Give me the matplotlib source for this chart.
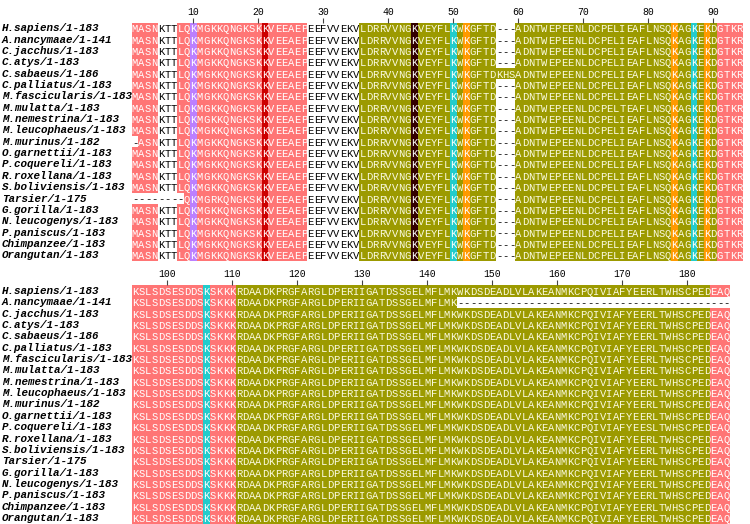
import numpy as np
import matplotlib
matplotlib.use('Agg')
import matplotlib.pyplot as plt
from matplotlib.colors import ListedColormap
from matplotlib.transforms import blended_transform_factory

names = ["H.sapiens/1-183", "A.nancymaae/1-141", "C.jacchus/1-183", "C.atys/1-183",
         "C.sabaeus/1-186", "C.palliatus/1-183", "M.fascicularis/1-183", "M.mulatta/1-183",
         "M.nemestrina/1-183", "M.leucophaeus/1-183", "M.murinus/1-182", "O.garnettii/1-183",
         "P.coquereli/1-183", "R.roxellana/1-183", "S.boliviensis/1-183", "Tarsier/1-175",
         "G.gorilla/1-183", "N.leucogenys/1-183", "P.paniscus/1-183", "Chimpanzee/1-183",
         "Orangutan/1-183"]

seqs = [
    "MASNKTTLQKMGKKQNGKSKKVEEAEPEEFVVEKVLDRRVVNGKVEYFLKWKGFTD---ADNTWEPEENLDCPELIEAFLNSQKAGKEKDGTKR"
    "KSLSDSESDDSKSKKKRDAADKPRGFARGLDPERIIGATDSSGELMFLMKWKDSDEADLVLAKEANMKCPQIVIAFYEERLTWHSCPEDEAQ",
    "MASNKTTLQKMGKKQNGKSKKVEEAEPEEFVVEKVLDRRVVNGKVEYFLKWKGFTD---ADNTWEPEENLDCPELIEAFLNSQKAGKEKDGTKR"
    "KSLSDSESDDSKSKKKRDAADKPRGFARGLDPERIIGATDSSGELMFLMK" "----------" "----------" "----------" "----------" "--",
    "MASNKTTLQKMGKKQNGKSKKVEEAEPEEFVVEKVLDRRVVNGKVEYFLKWKGFTD---ADNTWEPEENLDCPELIEAFLNSQKAGKEKDGTKR"
    "KSLSDSESDDSKSKKKRDAADKPRGFARGLDPERIIGATDSSGELMFLMKWKDSDEADLVLAKEANMKCPQIVIAFYEERLTWHSCPEDEAQ",
    "MASNKTTLQKMGKKQNGKSKKVEEAEPEEFVVEKVLDRRVVNGKVEYFLKWKGFTD---ADNTWEPEENLDCPELIEAFLNSQKAGKEKDGTKR"
    "KSLSDSESDDSKSKKKRDAADKPRGFARGLDPERIIGATDSSGELMFLMKWKDSDEADLVLAKEANMKCPQIVIAFYEERLTWHSCPEDEAQ",
    "MASNKTTLQKMGKKQNGKSKKVEEAEPEEFVVEKVLDRRVVNGKVEYFLKWKGFTDKHSADNTWEPEENLDCPELIEAFLNSQKAGKEKDGTKR"
    "KSLSDSESDDSKSKKKRDAADKPRGFARGLDPERIIGATDSSGELMFLMKWKDSDEADLVLAKEANMKCPQIVIAFYEERLTWHSCPEDEAQ",
    "MASNKTTLQKMGKKQNGKSKKVEEAEPEEFVVEKVLDRRVVNGKVEYFLKWKGFTD---ADNTWEPEENLDCPELIEAFLNSQKAGKEKDGTKR"
    "KSLSDSESDDSKSKKKRDAADKPRGFARGLDPERIIGATDSSGELMFLMKWKDSDEADLVLAKEANMKCPQIVIAFYEERLTWHSCPEDEAQ",
    "MASNKTTLQKMGKKQNGKSKKVEEAEPEEFVVEKVLDRRVVNGKVEYFLKWKGFTD---ADNTWEPEENLDCPELIEAFLNSQKAGKEKDGTKR"
    "KSLSDSESDDSKSKKKRDAADKPRGFARGLDPERIIGATDSSGELMFLMKWKDSDEADLVLAKEANMKCPQIVIAFYEERLTWHSCPEDEAQ",
    "MASNKTTLQKMGKKQNGKSKKVEEAEPEEFVVEKVLDRRVVNGKVEYFLKWKGFTD---ADNTWEPEENLDCPELTEAFLNSQKAGKEKDGTKR"
    "KSLSDSESDDSKSKKKRDAADKPRGFARGLDPERIIGATDSSGELMFLMKWKDSDEADLVLAKEANMKCPQIVIAFYEERLTWHSCPEDEAQ",
    "MASNKTTLQKMGKKQNGKSKKVEEAEPEEFVVEKVLDRRVVNGKVEYFLKWKGFTD---ADNTWEPEENLDCPELIEAFLNSQKAGKEKDGTKR"
    "KSLSDSESDDSKSKKKRDAADKPRGFARGLDPERIIGATDSSGELMFLMKWKDSDEADLVLAKEANMKCPQIVIAFYEERLTWHSCPEDEAQ",
    "MASNKTTLQKMGKKQNGKSKKVEEAEPEEFVVEKVLDRRVVNGKVEYFLKWKGFTD---ADNTWEPEENLDCPELIEAFLNSQKAGKEKDGTKR"
    "KSLSDSESDDSKSKKKRDAADKPRGFARGLDPERIIGATDSSGELMFLMKWKDSDEADLVLAKEANMKCPQIVIAFYEERLTWHSCPEDEAQ",
    "-ASNKTTLQKMGKKQNGKSKKVEEAEPEEFVVEKVLDRRVVNGKVEYFLKWKGFTD---ADNTWEPEENLDCPELIEAFLNSQKAGKEKDGTKR"
    "KSLSDSESDDSKSKKKRDAADKPRGFARGLDPERIIGATDSSGELMFLMKWKDSDEADLVLAKEANMKCPQIVIAFYEERLTWHSCPEDEAQ",
    "MASNKTTLQKMGKKQNGKSKKVEEAEPEEFVVEKVLDRRVVNGKVEYFLKWKGFTD---ADNTWEPEENLDCPELIEAFLNSQKAGKEKDGTKR"
    "KSLSDSESDDSKSKKKRDAADKPRGFARGLDPERIIGATDSSGELMFLMKWKDSDEADLVLAKEANMKCPQIVIAFYEERLTWHSCPEDEAQ",
    "MASNKTTLQKMGKKQNGKSKKVEEAEPEEFVVEKVLDRRVVNGKVEYFLKWKGFTD---ADNTWEPEENLDCPELIEAFLNSQKAGKEKDGTKR"
    "KSLSDSESDDSKSKKKRDAADKPRGFARGLDPERIIGATDSSGELMFLMKWKDSDEADLVLAKEANMKCPQIVIAFYEESLTWHSCPEDEAQ",
    "MASNKTTLQKMGKKQNGKSKKVEEAEPEEFVVEKVLDRRVVNGKVEYFLKWKGFTD---ADNTWEPEENLDCPELIEAFLNSQKAGKEKDGTKR"
    "KSLSDSESDDSKSKKKRDAADKPRGFARGLDPERIIGATDSSGELMFLMKWKDSDEADLVLAKEANMKCPQIVIAFYEERLTWHSCPEDEAQ",
    "MASNKTTLQKMGKKQNGKSKKVEEAEPEEFVVEKVLDRRVVNGKVEYFLKWKGFTD---ADNTWEPEENLDCPELIEAFLNSQKAGKEKDGTKR"
    "KSLSDSESDDSKSKKKRDAADKPRGFARGLDPERIIGATDSSGELMFLMKWKDSDEADLVLAKEANMKCPQIVIAFYEERLTWHSCPEDEAQ",
    "--------QKMGRKQNGKSKKVEEAEPEEFVVEKVLDRRVVNGKVEYFLKWKGFTD---ADNTWEPEENLDCPELIEAFLNSQKAGKEKDGTKR"
    "KSLSDSESDDSKSKKKRDAADKPRGFARGLDPERIIGATDSSGELMFLMKWKDSDEADLVLAKEANMKCPQIVIAFYEERLTWHSCPEDEAQ",
    "MASNKTTLQKMGKKQNGKSKKVEEAEPEEFVVEKVLDRRVVNGKVEYFLKWKGFTD---ADNTWEPEENLDCPELIEAFLNSQKAGKEKDGTKR"
    "KSLSDSESDDSKSKKKRDAADKPRGFARGLDPERIIGATDSSGELMFLMKWKDSDEADLVLAKEANMKCPQIVIAFYEERLTWHSCPEDEAQ",
    "MASNKTTLQKMGKKQNGKSKKVEEAEPEEFVVEKVLDRRVVNGKVEYFLKWKGFTD---ADNTWEPEENLDCPELIEAFLNSQKAGKEKDGTKR"
    "KSLSDSESDDSKSKKKRDAADKPRGFARGLDPERIIGATDSSGELMFLMKWKDSDEADLVLAKEANMKCPQIVIAFYEERLTWHSCPEDEAQ",
    "MASNKTTLQKMGKKQNGKSKKVEEAEPEEFVVEKVLDRRVVNGKVEYFLKWKGFTD---ADNTWEPEENLDCPELIEAFLNSQKAGKEKDGTKR"
    "KSLSDSESDDSKSKKKRDAADKPRGFARGLDPERIIGATDSSGELMFLMKWKDSDEADLVLAKEANMKCPQIVIAFYEERLTWHSCPEDEAQ",
    "MASNKTTLQKMGKKQNGKSKKVEEAEPEEFVVEKVLDRRVVNGKVEYFLKWKGFTD---ADNTWEPEENLDCPELIEAFLNSQKAGKEKDGTKR"
    "KSLSDSESDDSKSKKKRDAADKPRGFARGLDPERIIGATDSSGELMFLMKWKDSDEADLVLAKEANMKCPQIVIAFYEERLTWHSCPEDEAQ",
    "MASNKTTLQKMGKKQNGKSKKVEEAEPEEFVVEKVLDRRVVNGKVEYFLKWKGFTD---ADNTWEPEENLDCPELIEAFLNSQKAGKEKDGTKR"
    "KSLSDSESDDSKSKKKRDAADKPRGFARGLDPERIIGATDSSGELMFLMKWKDSDEADLVLAKEANMKCPQIVIAFYEERLTWHSCPEDEAQ",
]

# colour class of each alignment column, as runs (class, number of columns)
column_runs = [('r', 4), ('w', 3), ('r', 2), ('p', 1), ('r', 10), ('d', 1), ('r', 6),
               ('w', 8), ('o', 8), ('m', 1), ('o', 5), ('c', 1), ('o', 1), ('y', 1),
               ('o', 31), ('y', 1), ('o', 2), ('c', 1), ('o', 1), ('y', 1), ('o', 1),
               ('r', 4), ('r', 11), ('c', 1), ('r', 4), ('o', 73), ('r', 3)]

block_cols = [(1, 94), (95, 186)]
block_ticks = [[10, 20, 30, 40, 50, 60, 70, 80, 90],
               [100, 110, 120, 130, 140, 150, 160, 170, 180]]

class_colors = {'w': '#ffffff', 'r': '#ff7575', 'o': '#9c9a00', 'p': '#bb80ff',
                'd': '#cc0000', 'm': '#330000', 'c': '#22cccc', 'y': '#ff9900'}
text_colors = {'w': 'black', 'r': 'white', 'o': '#fbfbe0', 'p': 'white',
               'd': 'white', 'm': 'white', 'c': 'white', 'y': 'white'}

col_class = ''.join(k * n for k, n in column_runs)
keys = list(class_colors)
cmap = ListedColormap([class_colors[k] for k in keys])

nrow = len(seqs)
ncol = len(col_class)
grid = np.zeros((nrow, ncol), dtype=int)
for i, s in enumerate(seqs):
    for j, ch in enumerate(s):
        grid[i, j] = keys.index('w' if ch == '-' else col_class[j])

fig = plt.figure(figsize=(7.5, 5.24), dpi=100)
W, H = 750.0, 524.0
left_px, cell_w, cell_h = 131.7, 6.5, 11.35
tops = [22.6, 285.3]

mono = 'Liberation Mono'

for b, (c0, c1) in enumerate(block_cols):
    w = (c1 - c0 + 1) * cell_w
    h = nrow * cell_h
    ax = fig.add_axes([left_px / W, 1 - (tops[b] + h) / H, w / W, h / H])
    xe = np.arange(c0 - 0.5, c1 + 1)
    ye = np.arange(-0.5, nrow)
    ax.pcolormesh(xe, ye, grid[:, c0 - 1:c1], cmap=cmap, vmin=-0.5,
                  vmax=len(keys) - 0.5, shading='flat', antialiased=False, linewidth=0)
    ax.set_xlim(c0 - 0.5, c1 + 0.5)
    ax.set_ylim(nrow - 0.5, -0.5)
    for sp in ax.spines.values():
        sp.set_visible(False)
    ax.set_yticks([])
    ax.xaxis.tick_top()
    ax.set_xticks(block_ticks[b])
    ax.set_xticklabels([str(t) for t in block_ticks[b]], fontfamily=mono, fontsize=7)
    ax.tick_params(axis='x', length=3.8, width=0.8, pad=0.5, color='#444444')

    tr = blended_transform_factory(fig.transFigure, ax.transData)
    for i, s in enumerate(seqs):
        ax.text(2 / W, i, names[i], transform=tr, ha='left', va='center',
                fontfamily=mono, fontstyle='italic', fontweight='bold', fontsize=7.8)
        for c in range(c0, c1 + 1):
            ch = s[c - 1]
            ax.text(c, i, ch, ha='center', va='center_baseline', fontfamily=mono,
                    fontsize=7.6, color=text_colors[keys[grid[i, c - 1]]])

fig.savefig('out.png', dpi=100)
